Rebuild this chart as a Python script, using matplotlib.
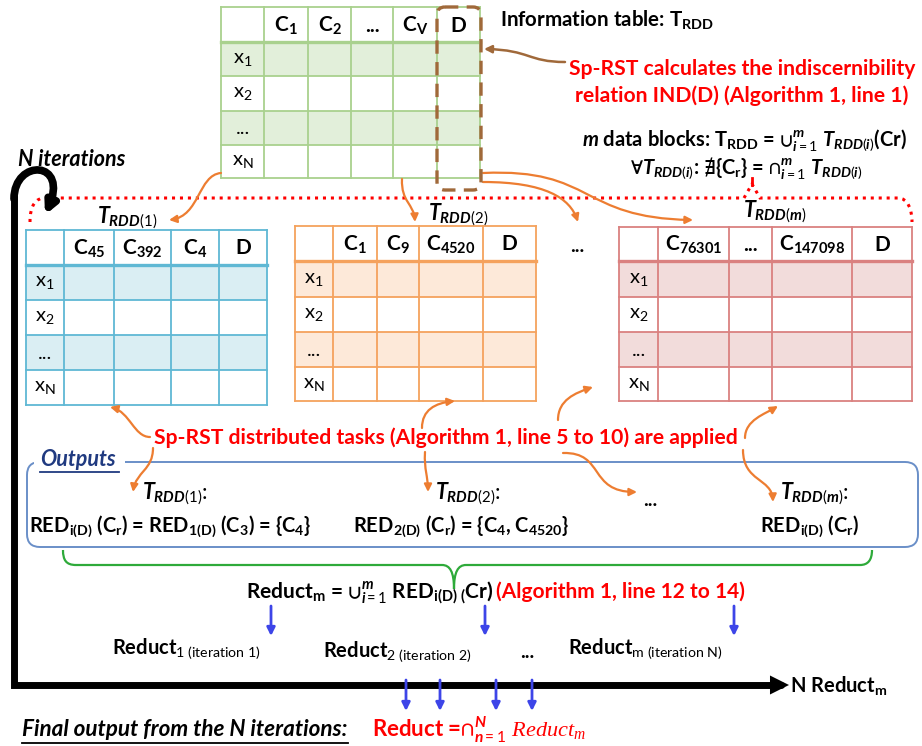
import matplotlib
matplotlib.use('Agg')
import matplotlib.pyplot as plt
from matplotlib.patches import Rectangle, FancyArrowPatch, FancyBboxPatch, PathPatch
from matplotlib.path import Path

plt.rcParams['font.family'] = ['Lato', 'DejaVu Sans']
plt.rcParams['mathtext.fontset'] = 'custom'
plt.rcParams['mathtext.rm'] = 'Lato'
plt.rcParams['mathtext.bf'] = 'Lato:bold'
plt.rcParams['mathtext.it'] = 'Lato:bold:italic'
plt.rcParams['mathtext.sf'] = 'Liberation Serif:italic'
plt.rcParams['mathtext.default'] = 'bf'
plt.rcParams['mathtext.fallback'] = 'stixsans'

# table contents
info_cols = ['', 'C$_1$', 'C$_2$', '...', 'C$_V$', 'D']
row_labels = [r'x$_{\mathrm{1}}$', r'x$_{\mathrm{2}}$', '...', r'x$_{\mathrm{N}}$']
block_names = ['RDD(1)', 'RDD(2)', 'RDD(m)']
block_cols = [
    ['', 'C$_{45}$', 'C$_{392}$', 'C$_4$', 'D'],
    ['', 'C$_1$', 'C$_9$', 'C$_{4520}$', 'D'],
    ['', 'C$_{76301}$', '...', 'C$_{147098}$', 'D'],
]
block_reds = [
    r'RED$_{i(D)}$ (C$_r$) = RED$_{1(D)}$ (C$_3$) = {C$_4$}',
    r'RED$_{2(D)}$ (C$_r$) = {C$_4$, C$_{4520}$}',
    r'RED$_{i(D)}$ (C$_r$)',
]
reduct_labels = [
    r'Reduct$_{\mathrm{1\ (iteration\ 1)}}$',
    r'Reduct$_{\mathrm{2\ (iteration\ 2)}}$',
    '...',
    r'Reduct$_{\mathrm{m\ (iteration\ N)}}$',
]

RED = '#FF0000'
ORANGE = '#ED7D31'
BROWN = '#A0693A'
BLUE_ARROW = '#3D45E8'

fig = plt.figure(figsize=(9.22, 7.46), dpi=100)
ax = fig.add_axes([0, 0, 1, 1])
ax.set_xlim(0, 922)
ax.set_ylim(746, 0)
ax.axis('off')


def draw_table(xs, ys, cols, edge, fill):
    for r in (1, 3):
        ax.add_patch(Rectangle((xs[0], ys[r]), xs[-1] - xs[0], ys[r + 1] - ys[r],
                               facecolor=fill, edgecolor='none', zorder=1))
    for x in xs:
        ax.plot([x, x], [ys[0], ys[-1]], color=edge, lw=1.3, zorder=2)
    for i, y in enumerate(ys):
        ax.plot([xs[0], xs[-1]], [y, y], color=edge, lw=2.4 if i == 1 else 1.3, zorder=2)
    for j, c in enumerate(cols):
        ax.text((xs[j] + xs[j + 1]) / 2, (ys[0] + ys[1]) / 2 + 1, c, ha='center', va='center',
                fontsize=15, fontweight='bold', zorder=3)
    for i, lab in enumerate(row_labels):
        ax.text((xs[0] + xs[1]) / 2, (ys[i + 1] + ys[i + 2]) / 2 + 1, lab, ha='center', va='center',
                fontsize=14.5, zorder=3)


def curve_arrow(p0, c1, c2, p1, color, lw=1.6, head=11, style='-|>'):
    path = Path([p0, c1, c2, p1], [Path.MOVETO, Path.CURVE4, Path.CURVE4, Path.CURVE4])
    ax.add_patch(FancyArrowPatch(path=path, arrowstyle=style, mutation_scale=head,
                                 color=color, lw=lw, zorder=4))


def straight_arrow(p0, p1, color, lw=2, head=12):
    ax.add_patch(FancyArrowPatch(p0, p1, arrowstyle='-|>', mutation_scale=head,
                                 color=color, lw=lw, shrinkA=0, shrinkB=0, zorder=4))


# information table
draw_table([221, 264, 308, 351, 393, 437, 480], [7, 42, 76, 111, 145, 178],
           info_cols, '#A9D18E', '#E2EFDA')
ax.add_patch(FancyBboxPatch((437, 7), 44, 183, boxstyle='round,pad=0,rounding_size=8',
                            fc='none', ec=BROWN, lw=2.4, ls=(0, (4, 2.5)), zorder=5))
ax.text(500, 20, r'Information table: T$_{RDD}$', ha='left', va='center', fontsize=14.8, fontweight='bold')
ax.text(742, 69, 'Sp-RST calculates the indiscernibility', ha='center', va='center',
        fontsize=15.2, fontweight='bold', color=RED)
ax.text(742, 96, 'relation IND(D) (Algorithm 1, line 1)', ha='center', va='center',
        fontsize=15.2, fontweight='bold', color=RED)
curve_arrow((565, 62), (528, 62), (530, 50), (484, 49), BROWN, lw=1.8)
ax.text(744, 141, r'$\mathit{m}$ data blocks: T$_{RDD}$ = $\cup_{\mathit{i=1}}^{\mathit{m}}\ \mathit{T}_{\mathit{RDD(i)}}$(Cr)',
        ha='center', va='center', fontsize=14.5, fontweight='bold')
ax.text(746, 169, r'$\forall\mathit{T}_{\mathit{RDD(i)}}$: $\nexists\{$C$_r\}$ = $\cap_{\mathit{i=1}}^{\mathit{m}}\ \mathit{T}_{\mathit{RDD(i)}}$',
        ha='center', va='center', fontsize=14.5, fontweight='bold')

# red dotted brace over the data blocks
brace = Path([(30, 222), (30, 205), (36, 198), (45, 198), (744, 198), (752, 184), (760, 198),
              (898, 198), (908, 198), (912, 210), (912, 222)],
             [Path.MOVETO, Path.CURVE4, Path.CURVE4, Path.CURVE4, Path.LINETO, Path.LINETO, Path.LINETO,
              Path.LINETO, Path.CURVE4, Path.CURVE4, Path.CURVE4])
ax.add_patch(PathPatch(brace, fill=False, ec=RED, lw=2.2, ls=(0, (1, 1.6)), zorder=3))
ax.plot([752, 752], [178, 185], color=RED, lw=2)

# iteration loop
loop = Path([(14, 196), (14, 685), (789, 685)], [Path.MOVETO, Path.LINETO, Path.LINETO])
ax.add_patch(FancyArrowPatch(path=loop, arrowstyle='-|>', mutation_scale=14, color='black',
                             lw=5, joinstyle='miter', zorder=4))
curve_arrow((14, 199), (14, 158), (70, 160), (45, 215), 'black', lw=5.5, head=16)
ax.text(18, 160, 'N iterations', ha='left', va='center', fontsize=15.5, fontweight='bold', style='italic')
ax.text(790, 686, r'N Reduct$_m$', ha='left', va='center', fontsize=14.5, fontweight='bold')

# data block tables
block_x = [[26, 64, 114, 171, 219, 267], [295, 333, 377, 419, 483, 536], [619, 658, 729, 772, 852, 912]]
block_y = [[230, 265, 300, 335, 370, 405], [226, 261, 297, 332, 367, 401], [227, 261, 297, 332, 367, 401]]
block_edge = ['#5FB8D4', '#F5A25D', '#DA8180']
block_fill = ['#DAEEF3', '#FDE9D9', '#F2DCDB']
label_pos = [(127, 218), (458, 215), (775, 212)]
for k in range(3):
    draw_table(block_x[k], block_y[k], block_cols[k], block_edge[k], block_fill[k])
    ax.text(label_pos[k][0], label_pos[k][1], r'$\mathit{T}_{\mathit{%s}}$' % block_names[k],
            ha='center', va='center', fontsize=15.5)
ax.text(577, 247, '...', ha='center', va='center', fontsize=14, fontweight='bold')

curve_arrow((221, 173), (198, 175), (200, 216), (169, 220), ORANGE)
curve_arrow((402, 179), (401, 202), (414, 204), (415, 222), ORANGE)
curve_arrow((483, 182), (545, 182), (570, 198), (578, 222), ORANGE)
curve_arrow((483, 173), (595, 168), (578, 218), (693, 220), ORANGE)

# distributed tasks
ax.text(446, 438, 'Sp-RST distributed tasks (Algorithm 1, line 5 to 10) are applied', ha='center', va='center',
        fontsize=15.2, fontweight='bold', color=RED)
curve_arrow((150, 437), (134, 437), (130, 412), (110, 407), ORANGE)
curve_arrow((422, 428), (422, 410), (435, 403), (455, 401), ORANGE)
curve_arrow((558, 420), (558, 400), (575, 393), (593, 387), ORANGE)
curve_arrow((745, 438), (745, 420), (765, 414), (778, 406), ORANGE)
curve_arrow((153, 448), (153, 470), (136, 472), (133, 492), ORANGE)
curve_arrow((425, 452), (424, 470), (428, 476), (428, 492), ORANGE)
curve_arrow((563, 453), (605, 452), (588, 492), (637, 492), ORANGE)
curve_arrow((743, 450), (743, 482), (772, 478), (773, 502), ORANGE)

# outputs box
ax.add_patch(FancyBboxPatch((27, 462), 891, 85, boxstyle='round,pad=0,rounding_size=13',
                            fc='none', ec='#6A8FC8', lw=1.4, zorder=2))
ax.add_patch(Rectangle((34, 455), 91, 14, fc='white', ec='none', zorder=3))
ax.text(40, 459, 'Outputs', ha='left', va='center', fontsize=15.5, fontweight='bold', style='italic',
        color='#203A80', zorder=4)
ax.plot([40, 119], [472, 472], color='#203A80', lw=1.3, zorder=4)

out_label_x = [175, 468, 815]
out_red_x = [170, 461, 810]
for k in range(3):
    ax.text(out_label_x[k], 494, r'$\mathit{T}_{\mathit{%s}}$:' % block_names[k], ha='center', va='center',
            fontsize=15.5)
    ax.text(out_red_x[k], 532, block_reds[k], ha='center', va='baseline', fontsize=14.5, fontweight='bold')
ax.text(650, 506, '...', ha='center', va='baseline', fontsize=14, fontweight='bold')

# union of reducts
green = Path([(63, 550), (63, 560), (66, 565), (76, 565), (442, 565), (450, 565), (454, 572), (454, 589),
              (454, 572), (458, 565), (466, 565), (860, 565), (868, 565), (872, 560), (872, 550)],
             [Path.MOVETO, Path.CURVE4, Path.CURVE4, Path.CURVE4, Path.LINETO, Path.CURVE4, Path.CURVE4,
              Path.CURVE4, Path.CURVE4, Path.CURVE4, Path.CURVE4, Path.LINETO, Path.CURVE4, Path.CURVE4,
              Path.CURVE4])
ax.add_patch(PathPatch(green, fill=False, ec='#2EAA3A', lw=1.6, zorder=3))
ax.text(246, 598, r'Reduct$_m$ = $\cup_{\mathit{i=1}}^{\mathit{m}}$ RED$_{i(D)\ (}$Cr)', ha='left', va='baseline',
        fontsize=15, fontweight='bold')
ax.text(496, 598, '(Algorithm 1, line 12 to 14)', ha='left', va='baseline', fontsize=15,
        fontweight='bold', color=RED)

for x in [271, 485, 734]:
    straight_arrow((x, 606), (x, 636), BLUE_ARROW)
reduct_x = [112, 323, 520, 568]
reduct_y = [655, 658, 658, 655]
for k in range(4):
    ax.text(reduct_x[k], reduct_y[k], reduct_labels[k], ha='left', va='baseline', fontsize=14.5, fontweight='bold')

for x in [406, 440, 496, 532]:
    straight_arrow((x, 680), (x, 711), BLUE_ARROW)

ax.text(22, 730, 'Final output from the N iterations:', ha='left', va='center', fontsize=16.2,
        fontweight='bold', style='italic')
ax.plot([22, 348], [743, 743], color='black', lw=1.3)
ax.text(372, 730, r'Reduct =$\cap_{\mathit{n=1}}^{\mathit{N}}\ \mathsf{Reduct}_{\mathsf{m}}$', ha='left', va='center',
        fontsize=16, fontweight='bold', color=RED)

fig.savefig('out.png', dpi=100, facecolor='white')
